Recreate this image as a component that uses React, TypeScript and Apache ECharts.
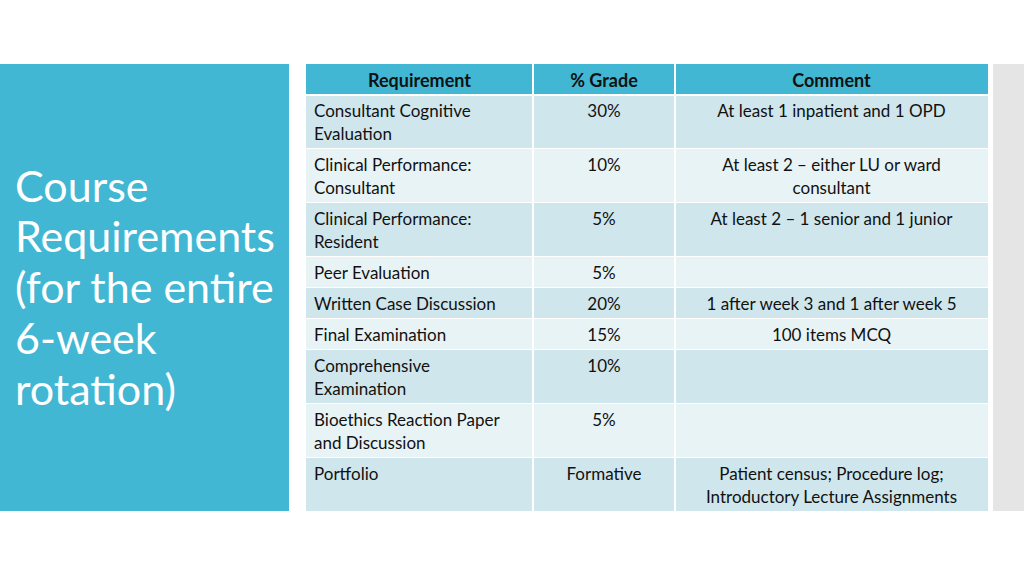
import React, { useEffect, useRef } from "react";
import * as echarts from "echarts";

const titleLines = ["Course", "Requirements", "(for the entire", "6-week", "rotation)"];
const headers = ["Requirement", "% Grade", "Comment"];
const requirements = [
  "Consultant Cognitive\nEvaluation",
  "Clinical Performance:\nConsultant",
  "Clinical Performance:\nResident",
  "Peer Evaluation",
  "Written Case Discussion",
  "Final Examination",
  "Comprehensive\nExamination",
  "Bioethics Reaction Paper\nand Discussion",
  "Portfolio",
];
const grades = ["30%", "10%", "5%", "5%", "20%", "15%", "10%", "5%", "Formative"];
const comments = [
  "At least 1 inpatient and 1 OPD",
  "At least 2 \u2013 either LU or ward\nconsultant",
  "At least 2 \u2013 1 senior and 1 junior",
  "",
  "1 after week 3 and 1 after week 5",
  "100 items MCQ",
  "",
  "",
  "Patient census; Procedure log;\nIntroductory Lecture Assignments",
];

const colX = [306, 533, 675, 988];
const headerTop = 64;
const headerH = 31;
const lineH = 23;
const FONT = "Lato, 'Open Sans', sans-serif";

export default function App() {
  const ref = useRef<HTMLDivElement>(null);
  useEffect(() => {
    if (!ref.current) return;
    const chart = echarts.init(ref.current, null, { renderer: "svg" });
    const els: any[] = [];
    els.push({ type: "rect", shape: { x: 0, y: 64, width: 289, height: 447 }, style: { fill: "#41B7D3" } });
    els.push({ type: "rect", shape: { x: 993, y: 64, width: 31, height: 447 }, style: { fill: "#E5E5E5" } });
    titleLines.forEach((t, i) => {
      els.push({
        type: "text",
        x: 15,
        y: 185 + i * 50.8,
        style: { text: t, fill: "#FFFFFF", font: `43px ${FONT}`, textVerticalAlign: "middle", textAlign: "left" },
      });
    });
    els.push({ type: "rect", shape: { x: colX[0], y: headerTop, width: colX[3] - colX[0], height: headerH }, style: { fill: "#41B7D3" } });
    headers.forEach((h, c) => {
      els.push({
        type: "text",
        x: (colX[c] + colX[c + 1]) / 2,
        y: headerTop + headerH / 2,
        style: { text: h, fill: "#111111", font: `bold 18px ${FONT}`, textAlign: "center", textVerticalAlign: "middle" },
      });
    });
    let y = headerTop + headerH;
    requirements.forEach((r, i) => {
      const lines = Math.max(r.split("\n").length, comments[i].split("\n").length);
      const h = lines === 2 ? 54 : 31;
      els.push({
        type: "rect",
        shape: { x: colX[0], y, width: colX[3] - colX[0], height: h },
        style: { fill: i % 2 === 0 ? "#CFE6EC" : "#E8F3F6" },
      });
      const ty = y + 4;
      const common = { fill: "#111111", font: `17px ${FONT}`, lineHeight: lineH, textVerticalAlign: "top" };
      els.push({ type: "text", x: 314, y: ty, style: { ...common, text: r, textAlign: "left" } });
      els.push({ type: "text", x: (colX[1] + colX[2]) / 2, y: ty, style: { ...common, text: grades[i], textAlign: "center" } });
      if (comments[i]) {
        els.push({ type: "text", x: (colX[2] + colX[3]) / 2, y: ty, style: { ...common, text: comments[i], textAlign: "center" } });
      }
      y += h;
      els.push({ type: "line", shape: { x1: colX[0], y1: y, x2: colX[3], y2: y }, style: { stroke: "#FFFFFF", lineWidth: 2 } });
    });
    els.push({ type: "line", shape: { x1: colX[0], y1: headerTop + headerH, x2: colX[3], y2: headerTop + headerH }, style: { stroke: "#FFFFFF", lineWidth: 2 } });
    [colX[1], colX[2]].forEach((x) => {
      els.push({ type: "line", shape: { x1: x, y1: headerTop, x2: x, y2: y }, style: { stroke: "#FFFFFF", lineWidth: 2 } });
    });
    chart.setOption({ animation: false, backgroundColor: "#FFFFFF", graphic: { elements: els } });
    return () => chart.dispose();
  }, []);
  return <div ref={ref} style={{ position: "fixed", left: 0, top: 0, width: 1024, height: 576 }} />;
}
